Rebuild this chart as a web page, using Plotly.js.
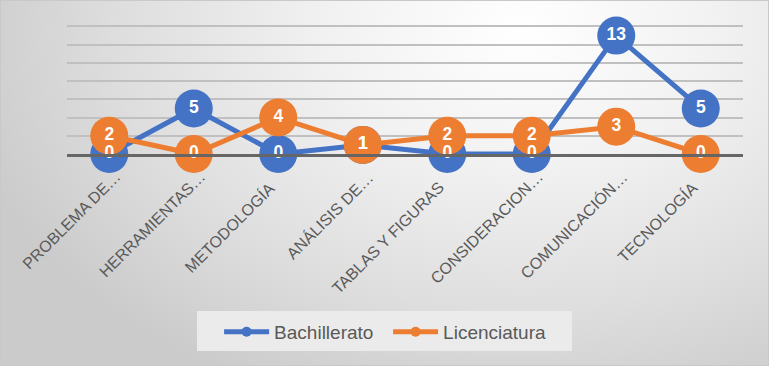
<!DOCTYPE html>
<html>
<head>
<meta charset="utf-8">
<script src="https://cdn.plot.ly/plotly-3.0.1.min.js"></script>
<style>
  html, body { margin: 0; padding: 0; }
  #wrap {
    width: 769px; height: 366px; box-sizing: border-box;
    border: 1px solid #c9c9c9;
    background: radial-gradient(ellipse 75% 110% at 68% 8%, #ffffff 0%, #f1f1f1 35%, #dedede 70%, #cbcbcb 100%);
  }
  #chart { width: 767px; height: 364px; }
</style>
</head>
<body>
<div id="wrap"><div id="chart"></div></div>
<script>
const categories = ["PROBLEMA DE…", "HERRAMIENTAS…", "METODOLOGÍA", "ANÁLISIS DE…", "TABLAS Y FIGURAS", "CONSIDERACION…", "COMUNICACIÓN…", "TECNOLOGÍA"];
const bachillerato = [0, 5, 0, 1, 0, 0, 13, 5];
const licenciatura = [2, 0, 4, 1, 2, 2, 3, 0];

const fam = "Liberation Sans, Arial, sans-serif";
const labelFont = {family: fam, size: 17.5, color: "#ffffff", weight: "bold"};
const colors = {Bachillerato: "#4472c4", Licenciatura: "#ed7d31"};

function series(name, y) {
  return {
    type: "scatter", mode: "lines+markers", name: name, showlegend: false,
    x: categories, y: y,
    line: {color: colors[name], width: 5},
    marker: {color: colors[name], size: 38},
    cliponaxis: false, hoverinfo: "skip"
  };
}
function labels(y) {
  return {
    type: "scatter", mode: "text", showlegend: false,
    x: categories, y: y,
    text: y.map(String), textposition: "middle center",
    textfont: labelFont, cliponaxis: false, hoverinfo: "skip"
  };
}
function legendEntry(name) {
  return {
    type: "scatter", mode: "lines+markers", name: name,
    x: [null], y: [null],
    line: {color: colors[name], width: 5},
    marker: {color: colors[name], size: 10}
  };
}

const data = [
  series("Bachillerato", bachillerato),
  series("Licenciatura", licenciatura),
  labels(bachillerato),
  labels(licenciatura),
  legendEntry("Bachillerato"),
  legendEntry("Licenciatura")
];

// rotated category labels (truncated ones sit a little higher/right, like the original)
const tickAnnotations = categories.map(c => {
  const trunc = c.endsWith("…");
  return {
    x: c, y: 0, xref: "x", yref: "y", text: c, showarrow: false,
    textangle: -45, xanchor: "right", yanchor: "top",
    xshift: trunc ? 17 : 3, yshift: trunc ? -11 : -22,
    font: {family: fam, size: 16, color: "#595959"}
  };
});

const layout = {
  width: 767, height: 364,
  paper_bgcolor: "rgba(0,0,0,0)", plot_bgcolor: "rgba(0,0,0,0)",
  margin: {l: 66, r: 25, t: 20, b: 211},
  showlegend: true,
  legend: {
    orientation: "h", x: 0.225, xanchor: "left", y: -1.195, yanchor: "top",
    bgcolor: "rgba(0,0,0,0)", borderwidth: 0,
    font: {family: fam, size: 19, color: "#595959"},
    itemwidth: 45, entrywidth: 109, traceorder: "normal"
  },
  shapes: [{
    type: "rect", xref: "paper", yref: "paper",
    x0: 0.1923, x1: 0.747, y0: -1.1805, y1: -1.481,
    fillcolor: "#ebebeb", line: {width: 0}, layer: "below"
  }],
  annotations: tickAnnotations,
  xaxis: {
    type: "category", range: [-0.5, 7.5],
    showticklabels: false, showgrid: false, ticks: "",
    showline: true, linecolor: "#666666", linewidth: 3,
    fixedrange: true
  },
  yaxis: {
    range: [0, 14.6], tickvals: [0, 2, 4, 6, 8, 10, 12, 14], showticklabels: false, ticks: "",
    showgrid: true, gridcolor: "#c0c0c0", gridwidth: 2,
    zeroline: false, showline: false, fixedrange: true
  }
};

Plotly.newPlot("chart", data, layout, {displayModeBar: false, staticPlot: true});
</script>
</body>
</html>
